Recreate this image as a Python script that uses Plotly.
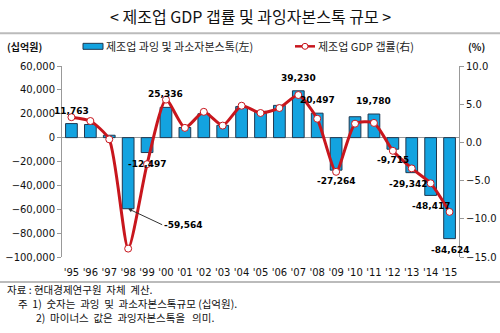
import plotly.graph_objects as go

years = ["'95","'96","'97","'98","'99","'00","'01","'02","'03","'04","'05","'06","'07","'08","'09","'10","'11","'12","'13","'14","'15"]
capital_stock = [11763, 11000, 2000, -59564, -12497, 25336, 8500, 20000, 10300, 26000, 22000, 27000, 39230, 20497, -27264, 17500, 19780, -9715, -29342, -48417, -84624]
gdp_gap = [3.3, 2.8, 0.4, -13.9, -2.85, 5.6, 1.9, 4.0, 2.2, 4.8, 3.85, 4.5, 6.2, 3.1, -3.85, 2.45, 2.55, -1.1, -3.4, -5.35, -9.1]
labeled = {"'95": 11763, "'00": 25336, "'07": 39230, "'08": 20497, "'11": 19780,
           "'99": -12497, "'09": -27264, "'12": -9715, "'13": -29342, "'14": -48417, "'15": -84624}
left_ticks = [60000, 40000, 20000, 0, -20000, -40000, -60000, -80000, -100000]
right_ticks = [10, 5, 0, -5, -10, -15]
bar_name = "제조업 과잉 및 과소자본스톡(左)"
line_name = "제조업 GDP 갭률(右)"

KR = "Noto Sans CJK KR"
NUM = "DejaVu Sans"
BLUE = "#13A3E0"
RED = "#C8161D"

W, H = 500, 333
L, R, T, B = 62, 459, 65.7, 257.0

def px(x):
    return (x - L) / (R - L)

def py(y):
    return (B - y) / (B - T)

fig = go.Figure()
fig.add_trace(go.Bar(x=years, y=capital_stock, name=bar_name,
                     marker=dict(color=BLUE, line=dict(color="#203850", width=1)),
                     width=0.62, yaxis="y"))
fig.add_trace(go.Scatter(x=years, y=gdp_gap, name=line_name, mode="lines+markers",
                         line=dict(color=RED, width=3, shape="spline", smoothing=0.6),
                         marker=dict(size=7, color="white", line=dict(color=RED, width=1)),
                         yaxis="y2"))

ann = []
for k, v in labeled.items():
    xs = -4 if k == "'13" else 0
    ann.append(dict(x=k, y=v, xref="x", yref="y", text=f"{v:,}", showarrow=False,
                    yshift=13 if v > 0 else -11, xshift=xs,
                    font=dict(family=NUM, size=9, color="black", weight="bold")))
ann.append(dict(x="'98", y=-59564, xref="x", yref="y", text="-59,564", showarrow=True,
                ax=34, ay=16, axref="pixel", ayref="pixel", arrowhead=2, arrowsize=0.8, arrowwidth=1,
                arrowcolor="#333", xanchor="left", yanchor="middle",
                font=dict(family=NUM, size=9, color="black", weight="bold")))
ann.append(dict(x=px(250), y=py(16), xref="paper", yref="paper", text="< 제조업 GDP 갭률 및 과잉자본스톡 규모 >",
                showarrow=False, font=dict(family=KR, size=16, color="#111"), xanchor="center", yanchor="middle"))
ann.append(dict(x=px(5), y=py(46), xref="paper", yref="paper", text="(십억원)", showarrow=False,
                xanchor="left", yanchor="middle", font=dict(family=KR, size=10, color="#111", weight="bold")))
ann.append(dict(x=px(466), y=py(46), xref="paper", yref="paper", text="(%)", showarrow=False,
                xanchor="left", yanchor="middle", font=dict(family=KR, size=10, color="#111", weight="bold")))
# manual legend
ann.append(dict(x=px(104), y=py(46), xref="paper", yref="paper", text=bar_name, showarrow=False,
                xanchor="left", yanchor="middle", font=dict(family=KR, size=11, color="#222")))
ann.append(dict(x=px(316), y=py(46), xref="paper", yref="paper", text=line_name, showarrow=False,
                xanchor="left", yanchor="middle", font=dict(family=KR, size=11, color="#222")))
notes = [(5, 290, "자료 : 현대경제연구원  자체  계산."),
         (16, 304, "주  1)  숫자는  과잉  및  과소자본스톡규모 (십억원)."),
         (34, 318, "2)  마이너스  값은  과잉자본스톡을   의미.")]
for x, y, t in notes:
    ann.append(dict(x=px(x), y=py(y), xref="paper", yref="paper", text=t, showarrow=False,
                    xanchor="left", yanchor="middle", font=dict(family=KR, size=10.5, color="#111")))

shapes = [dict(type="line", xref="paper", yref="paper", x0=px(0), x1=px(500), y0=py(33), y1=py(33),
               line=dict(color="#BBBBBB", width=2)),
          dict(type="line", xref="paper", yref="paper", x0=px(0), x1=px(500), y0=py(282), y1=py(282),
               line=dict(color="#BBBBBB", width=2)),
          dict(type="rect", xref="paper", yref="paper", x0=px(83), x1=px(103), y0=py(49), y1=py(43),
               fillcolor=BLUE, line=dict(color="#203850", width=1)),
          dict(type="line", xref="paper", yref="paper", x0=px(295), x1=px(315), y0=py(46), y1=py(46),
               line=dict(color=RED, width=2.5)),
          dict(type="circle", xref="paper", yref="paper", x0=px(302), x1=px(308), y0=py(49), y1=py(43),
               fillcolor="white", line=dict(color=RED, width=1))]

fig.update_layout(
    width=W, height=H,
    margin=dict(l=L, r=W - R, t=T, b=H - B, autoexpand=False, pad=0),
    paper_bgcolor="white", plot_bgcolor="white",
    showlegend=False,
    xaxis=dict(showline=False, ticks="", showgrid=False, automargin=False, ticklabelstandoff=8,
               tickfont=dict(family=NUM, size=10, color="#111"), type="category", range=[-0.5, 20.5]),
    yaxis=dict(range=[-100000, 60000], tickvals=left_ticks, automargin=False,
               tickformat=",", showgrid=False, zeroline=True, zerolinecolor="#999", zerolinewidth=1,
               showline=True, linecolor="#999", ticks="outside", ticklen=4, tickcolor="#999",
               tickfont=dict(family=NUM, size=10, color="#111")),
    yaxis2=dict(range=[-15, 10], tickvals=right_ticks, automargin=False,
                tickformat=".1f", overlaying="y", side="right", showgrid=False, zeroline=False,
                showline=True, linecolor="#999", ticks="outside", ticklen=4, tickcolor="#999",
                tickfont=dict(family=NUM, size=10, color="#111")),
    annotations=ann, shapes=shapes,
)
fig.write_html("out.html")
